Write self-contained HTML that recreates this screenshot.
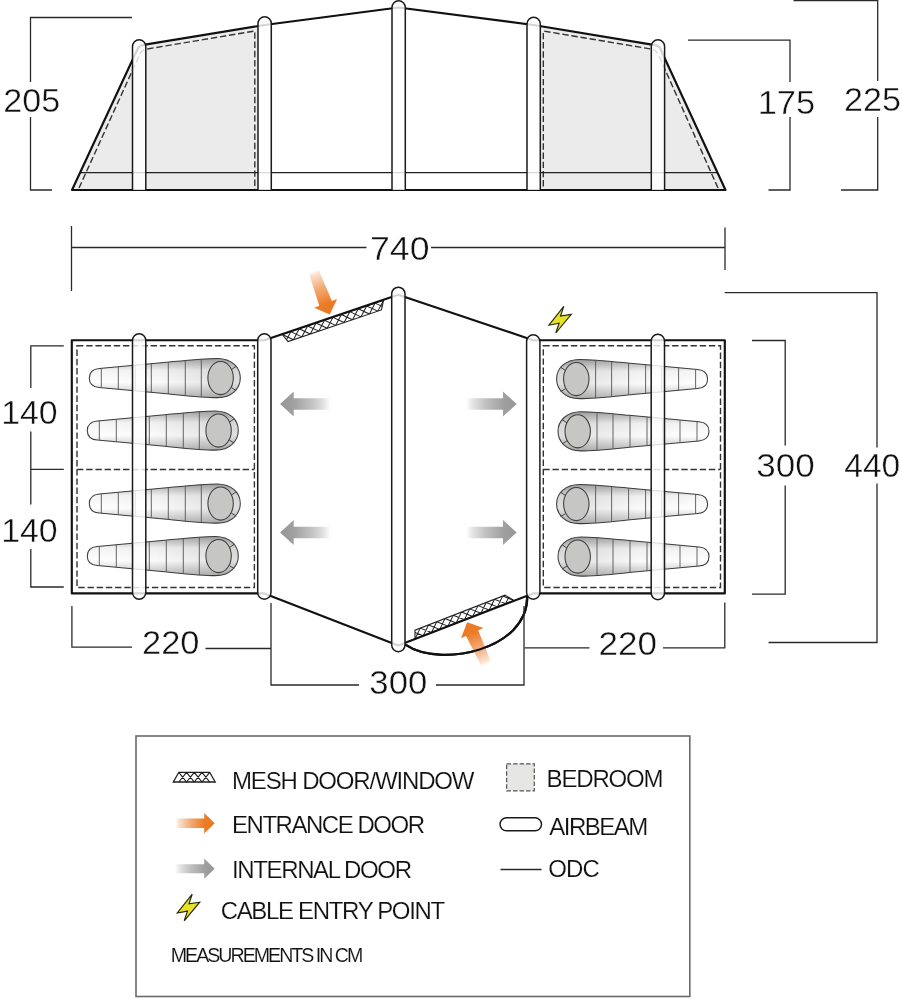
<!DOCTYPE html>
<html><head><meta charset="utf-8">
<style>
html,body{margin:0;padding:0;background:#fff;}
body{width:902px;height:999px;overflow:hidden;font-family:"Liberation Sans",sans-serif;}
svg{display:block;will-change:transform;transform:translateZ(0)}
text{font-family:"Liberation Sans",sans-serif;fill:#111;stroke:#fff;stroke-width:0.4px;}
.dim{fill:none;stroke:#2a2a2a;stroke-width:1.3}
.thick{fill:none;stroke:#111;stroke-width:2.15;stroke-linejoin:round;stroke-linecap:round}
.thin{fill:none;stroke:#222;stroke-width:1.3}
.dash{fill:none;stroke:#333;stroke-width:1.4;stroke-dasharray:6.4 2.8}
.beam{fill:#fff;fill-opacity:0.82;stroke:#1a1a1a;stroke-width:1.5}
.n{font-size:32.8px}
.l{font-size:24px;stroke-width:0.15px}
</style></head><body>
<svg width="902" height="999" viewBox="0 0 902 999">
<defs>
<linearGradient id="bagG" x1="0" y1="0" x2="0" y2="1">
<stop offset="0" stop-color="#ababab"/><stop offset="0.3" stop-color="#f4f4f4"/><stop offset="0.62" stop-color="#ffffff"/><stop offset="1" stop-color="#bcbcbc"/>
</linearGradient>
<linearGradient id="bagH" x1="0" y1="0" x2="1" y2="0"><stop offset="0" stop-color="#000" stop-opacity="0"/><stop offset="0.45" stop-color="#000" stop-opacity="0.02"/><stop offset="1" stop-color="#000" stop-opacity="0.13"/></linearGradient>
<linearGradient id="gL" x1="0" y1="0" x2="1" y2="0"><stop offset="0" stop-color="#9a9a9a"/><stop offset="0.3" stop-color="#a2a2a2"/><stop offset="1" stop-color="#fff"/></linearGradient>
<linearGradient id="gR" x1="1" y1="0" x2="0" y2="0"><stop offset="0" stop-color="#9a9a9a"/><stop offset="0.3" stop-color="#a2a2a2"/><stop offset="1" stop-color="#fff"/></linearGradient>
<linearGradient id="oR" x1="1" y1="0" x2="0" y2="0"><stop offset="0" stop-color="#e8701c"/><stop offset="0.35" stop-color="#ee8a3c"/><stop offset="1" stop-color="#fff"/></linearGradient>
<pattern id="mesh" width="6" height="6" patternUnits="userSpaceOnUse">
<rect width="6" height="6" fill="#fff"/><path d="M0,0L6,6M6,0L0,6" stroke="#222" stroke-width="0.9"/>
</pattern>
<g id="bag">
<path d="M0,0C0,-6 3,-9 10,-9.6L80,-16C100,-18 115,-19.6 128,-19.6C143,-19.6 151,-10 151,0C151,10 143,19.6 128,19.6C115,19.6 100,18 80,16L10,9.6C3,9 0,6 0,0Z" fill="url(#bagG)"/><path d="M0,0C0,-6 3,-9 10,-9.6L80,-16C100,-18 115,-19.6 128,-19.6C143,-19.6 151,-10 151,0C151,10 143,19.6 128,19.6C115,19.6 100,18 80,16L10,9.6C3,9 0,6 0,0Z" fill="url(#bagH)" stroke="#3c3c3c" stroke-width="1.05"/>
<path d="M12,-9.7V9.7M29,-11.3V11.3M46,-12.9V12.9M62,-14.4V14.4M79,-16V16M96,-17.6V17.6M112,-19V19" stroke="#555" stroke-width="0.9" fill="none"/>
<path d="M141.5,-8L147,-11.8M142,9.6L147,12.6" stroke="#444" stroke-width="1" fill="none"/>
<ellipse cx="131.3" cy="0" rx="12.7" ry="16.6" fill="#c6c6c4" stroke="#3c3c3c" stroke-width="1.05"/>
</g>
<linearGradient id="gBig" gradientUnits="userSpaceOnUse" x1="0" y1="0" x2="-50.4" y2="0"><stop offset="0" stop-color="#969696"/><stop offset="0.27" stop-color="#a0a0a0"/><stop offset="0.62" stop-color="#c2c2c2"/><stop offset="0.86" stop-color="#e2e2e2"/><stop offset="1" stop-color="#fff"/></linearGradient>
<linearGradient id="gOrg" gradientUnits="userSpaceOnUse" x1="0" y1="0" x2="-46.5" y2="0"><stop offset="0" stop-color="#ea7620"/><stop offset="0.26" stop-color="#ec7c28"/><stop offset="0.6" stop-color="#f3aa74"/><stop offset="0.92" stop-color="#fbe2d0"/><stop offset="1" stop-color="#fff"/></linearGradient>
<linearGradient id="gLegO" gradientUnits="userSpaceOnUse" x1="0" y1="0" x2="-39" y2="0"><stop offset="0" stop-color="#ea7620"/><stop offset="0.27" stop-color="#ec7c28"/><stop offset="0.62" stop-color="#f3aa74"/><stop offset="0.92" stop-color="#fbe2d0"/><stop offset="1" stop-color="#fff"/></linearGradient>
<linearGradient id="gLegG" gradientUnits="userSpaceOnUse" x1="0" y1="0" x2="-39.8" y2="0"><stop offset="0" stop-color="#969696"/><stop offset="0.27" stop-color="#a0a0a0"/><stop offset="0.62" stop-color="#c2c2c2"/><stop offset="0.88" stop-color="#e4e4e4"/><stop offset="1" stop-color="#fff"/></linearGradient>
<path id="aBig" d="M-50.4,-5.85L-13.6,-5.85V-12.6L0,0L-13.6,12.6V5.85L-50.4,5.85Z" fill="url(#gBig)"/><path id="aOrg" d="M-46.5,-5.2L-12,-6.7V-12.3L0,0L-12,12.3V6.7L-46.5,5.2Z" fill="url(#gOrg)"/><path id="aLegO" d="M-39,-4.75L-10.5,-4.75V-10.3L0,0L-10.5,10.3V4.75L-39,4.75Z" fill="url(#gLegO)"/><path id="aLegG" d="M-39.8,-4.5L-10.5,-4.5V-10.1L0,0L-10.5,10.1V4.5L-39.8,4.5Z" fill="url(#gLegG)"/>
<g id="bolt"><path d="M14.9,0L11.6,9.7L22.4,8L6.9,26.6L10.2,16.9L0,18.8Z" fill="#e9e123" stroke="#26260e" stroke-width="1.15" stroke-linejoin="miter"/></g>
</defs>
<rect width="902" height="999" fill="#fff"/>

<!-- ELEVATION -->
<g id="elev">
<path d="M72,190L138,48Q140,45 145,44.6L258,26.5V190Z" fill="#ebebeb"/>
<path d="M725.5,190L660,48Q658,45 652,44.6L541,26.5V190Z" fill="#ebebeb"/>
<path class="dash" d="M79,188L139,56Q141,50 147,49L254.8,31V190"/>
<path class="dash" d="M718,188L659,56Q657,50 651,49L543.3,31V190"/>
<path class="thin" d="M80,172.6H717"/>
<path class="thick" d="M72,190L138,48Q140,45 145,44.6L264.500,25L398.500,7.500L533.500,25L652,44.6Q658,45 660,48L725.500,190Z"/>
<path class="beam" d="M132.500,190V46.500a6.650,6.650 0 0 1 13.300,0V190"/>
<path class="beam" d="M258,190V23.500a6.650,6.650 0 0 1 13.300,0V190"/>
<path class="beam" d="M392,190V7.500a6.650,6.650 0 0 1 13.300,0V190"/>
<path class="beam" d="M527,190V24a6.650,6.650 0 0 1 13.300,0V190"/>
<path class="beam" d="M651.300,190V46.500a6.650,6.650 0 0 1 13.300,0V190"/>
</g>
<!-- elevation dims -->
<path class="dim" d="M132,17.500H30.500V82M30.500,117V190H52"/>
<text class="n" x="3.2" y="112" textLength="57" lengthAdjust="spacingAndGlyphs">205</text>
<path class="dim" d="M688,40.200H790V82M790,117V190H768.500"/>
<text class="n" x="757.7" y="114" textLength="57.5" lengthAdjust="spacingAndGlyphs">175</text>
<path class="dim" d="M793.500,0.500H877.700V81M877.700,117V190H841"/>
<text class="n" x="844" y="111" textLength="57" lengthAdjust="spacingAndGlyphs">225</text>

<!-- 740 -->
<path class="dim" d="M71.500,226V291M71.500,247.500H366.500M431,247.500H725M725,227.500V270"/>
<text class="n" x="370" y="260" textLength="59.5" lengthAdjust="spacingAndGlyphs">740</text>

<!-- PLAN -->
<g id="plan">
<!-- bags left -->
<use href="#bag" x="89.300" y="378"/>
<use href="#bag" x="87.300" y="430.500"/>
<use href="#bag" x="89.300" y="503.500"/>
<use href="#bag" x="87.300" y="556"/>
<!-- bags right -->
<use href="#bag" transform="translate(707.600,379) scale(-1,1)"/>
<use href="#bag" transform="translate(709,431.300) scale(-1,1)"/>
<use href="#bag" transform="translate(707.600,504) scale(-1,1)"/>
<use href="#bag" transform="translate(709,556.500) scale(-1,1)"/>
<!-- dashed bedrooms -->
<path class="dash" d="M77,345.800H254.400V587.500H77ZM77,469.500H254.400"/>
<path class="dash" d="M543.300,345.800H720.500V587.500H543.300ZM543.300,469.500H720.500"/>
<!-- mesh top -->
<g transform="translate(282.3,334.5) rotate(-18.7)"><clipPath id="mc1"><path d="M0,0H106.9L101.8,8.5H3.2Z"/></clipPath><path d="M0,0H106.9L101.8,8.5H3.2Z" fill="#fff"/><path d="M0.00,0L8.91,8.5M8.91,0L0.00,8.5M8.91,0L17.82,8.5M17.82,0L8.91,8.5M17.82,0L26.73,8.5M26.73,0L17.82,8.5M26.73,0L35.63,8.5M35.63,0L26.73,8.5M35.63,0L44.54,8.5M44.54,0L35.63,8.5M44.54,0L53.45,8.5M53.45,0L44.54,8.5M53.45,0L62.36,8.5M62.36,0L53.45,8.5M62.36,0L71.27,8.5M71.27,0L62.36,8.5M71.27,0L80.17,8.5M80.17,0L71.27,8.5M80.17,0L89.08,8.5M89.08,0L80.17,8.5M89.08,0L97.99,8.5M97.99,0L89.08,8.5M97.99,0L106.90,8.5M106.90,0L97.99,8.5" clip-path="url(#mc1)" stroke="#1e1e1e" stroke-width="1" fill="none"/><path d="M0,0H106.9L101.8,8.5H3.2Z" fill="none" stroke="#1e1e1e" stroke-width="1.1"/></g>
<g transform="translate(415,639) rotate(-21.3)"><clipPath id="mc2"><path d="M0,0H106.2L99.7,-8.2H3.20Z"/></clipPath><path d="M0,0H106.2L99.7,-8.2H3.20Z" fill="#fff"/><path d="M0.00,0L8.85,-8.2M8.85,0L0.00,-8.2M8.85,0L17.69,-8.2M17.69,0L8.85,-8.2M17.69,0L26.54,-8.2M26.54,0L17.69,-8.2M26.54,0L35.39,-8.2M35.39,0L26.54,-8.2M35.39,0L44.24,-8.2M44.24,0L35.39,-8.2M44.24,0L53.08,-8.2M53.08,0L44.24,-8.2M53.08,0L61.93,-8.2M61.93,0L53.08,-8.2M61.93,0L70.78,-8.2M70.78,0L61.93,-8.2M70.78,0L79.62,-8.2M79.62,0L70.78,-8.2M79.62,0L88.47,-8.2M88.47,0L79.62,-8.2M88.47,0L97.32,-8.2M97.32,0L88.47,-8.2M97.32,0L106.17,-8.2M106.17,0L97.32,-8.2" clip-path="url(#mc2)" stroke="#1e1e1e" stroke-width="1" fill="none"/><path d="M0,0H106.2L99.7,-8.2H3.20Z" fill="none" stroke="#1e1e1e" stroke-width="1.1"/></g>
<!-- porch arc -->
<path class="thick" d="M405.8,644.9C440,668 528,650 527.2,596.6" style="stroke-width:2.2"/>
<!-- outline -->
<path class="thick" d="M71.800,340.200H264.300L398.200,294.800L533.200,340.200H724.800V593.400H533.200L398.200,645.400L264.300,593.400H71.800Z"/>
<!-- beams -->
<path class="beam" d="M132.500,340.500a6.650,6.650 0 0 1 13.300,0V592.500a6.650,6.650 0 0 1 -13.300,0Z"/>
<path class="beam" d="M257.700,340.500a6.650,6.650 0 0 1 13.300,0V592.500a6.650,6.650 0 0 1 -13.300,0Z"/>
<path class="beam" d="M391.700,293.800a6.650,6.650 0 0 1 13.300,0V645a6.650,6.650 0 0 1 -13.300,0Z"/>
<path class="beam" d="M526.600,341.500a6.650,6.650 0 0 1 13.300,0V592.500a6.650,6.650 0 0 1 -13.300,0Z"/>
<path class="beam" d="M651.200,341a6.650,6.650 0 0 1 13.300,0V593a6.650,6.650 0 0 1 -13.300,0Z"/>
<!-- internal arrows -->
<use href="#aBig" transform="translate(280.1,404) rotate(180)"/>
<use href="#aBig" transform="translate(280.1,532.5) rotate(180)"/>
<use href="#aBig" transform="translate(516.6,404)"/>
<use href="#aBig" transform="translate(516.6,532.5)"/>
<!-- entrance arrows -->
<use href="#aOrg" transform="translate(329.8,314.6) rotate(69.5)"/>
<use href="#aOrg" transform="translate(467.2,622.3) rotate(-114.5)"/>
<path class="thick" d="M405.8,644.9C440,668 528,650 527.2,596.6" style="stroke-width:2.2"/>
<use href="#bolt" transform="translate(548.900,306.400)"/>
</g>
<!-- plan dims -->
<path class="dim" d="M63.800,345.800H30.800V388M30.800,431.500V504.500M30.800,549V587H63.800M30.800,469.300H63.800"/>
<text class="n" x="1.2" y="423.700" textLength="56.5" lengthAdjust="spacingAndGlyphs">140</text>
<text class="n" x="1.2" y="541.700" textLength="56.5" lengthAdjust="spacingAndGlyphs">140</text>
<path class="dim" d="M71.900,606V647.200H132M205.500,648.500H271"/>
<text class="n" x="142" y="653.900" textLength="57.5" lengthAdjust="spacingAndGlyphs">220</text>
<path class="dim" d="M271,603V685H359M436,685H524V606"/>
<text class="n" x="369.3" y="693.900" textLength="58" lengthAdjust="spacingAndGlyphs">300</text>
<path class="dim" d="M524.500,647.800H589.500M663,647.800H724.800V602.600"/>
<text class="n" x="598.4" y="654.500" textLength="58.5" lengthAdjust="spacingAndGlyphs">220</text>
<path class="dim" d="M752,340.500H785.200V445.500M785.200,485.500V594.200H752"/>
<text class="n" x="756.2" y="476.900" textLength="58.5" lengthAdjust="spacingAndGlyphs">300</text>
<path class="dim" d="M724.700,292.600H877V447.500M877,483.500V642.500H768.500"/>
<text class="n" x="844.3" y="476.900" textLength="56" lengthAdjust="spacingAndGlyphs">440</text>

<!-- LEGEND -->
<rect x="136" y="736" width="553.800" height="260.500" fill="#fff" stroke="#6a6a6a" stroke-width="1.6"/>
<g transform="translate(173.3,772.3)"><path d="M5.50,0L13.22,9.7M13.22,0L5.50,9.7M13.22,0L20.95,9.7M20.95,0L13.22,9.7M20.95,0L28.67,9.7M28.67,0L20.95,9.7M28.67,0L36.40,9.7M36.40,0L28.67,9.7" stroke="#1e1e1e" stroke-width="1.15" fill="none"/><path d="M0,9.7L5.5,0H36.4L41.9,9.7Z" fill="none" stroke="#1e1e1e" stroke-width="1.3"/></g>
<text class="l" x="232" y="788.500" textLength="242.5" lengthAdjust="spacing">MESH DOOR/WINDOW</text>
<use href="#aLegO" transform="translate(214.7,823.2)"/>
<text class="l" x="232" y="833.300" textLength="193" lengthAdjust="spacing">ENTRANCE DOOR</text>
<use href="#aLegG" transform="translate(214.7,868.65)"/>
<text class="l" x="232" y="878.300" textLength="180" lengthAdjust="spacing">INTERNAL DOOR</text>
<use href="#bolt" transform="translate(177.300,894.200)"/>
<text class="l" x="220.7" y="919" textLength="224.5" lengthAdjust="spacing">CABLE ENTRY POINT</text>
<text x="170.8" y="961.600" font-size="19.6" style="stroke-width:0.1px" textLength="192.5" lengthAdjust="spacing">MEASUREMENTS IN CM</text>
<rect x="506.600" y="763.800" width="27.700" height="27" fill="#e6e6e4" stroke="#555" stroke-width="1.2" stroke-dasharray="4.5 2"/>
<text class="l" x="546.6" y="786.900" textLength="117" lengthAdjust="spacing">BEDROOM</text>
<rect x="500" y="817.800" width="41.500" height="13" rx="6.500" fill="#fff" stroke="#1a1a1a" stroke-width="1.4"/>
<text class="l" x="549.3" y="834.500" textLength="99" lengthAdjust="spacing">AIRBEAM</text>
<path class="dim" d="M500.500,869.500H541.500" style="stroke-width:1.4"/>
<text class="l" x="548.3" y="876.900" textLength="51.5" lengthAdjust="spacing">ODC</text>
</svg>
</body></html>
